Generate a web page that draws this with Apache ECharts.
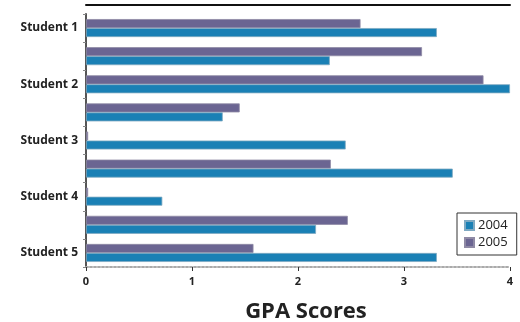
<!DOCTYPE html>
<html>
<head>
<meta charset="utf-8">
<script src="https://cdn.jsdelivr.net/npm/echarts@6/dist/echarts.min.js"></script>
<style>html,body{margin:0;padding:0;background:#fff}#c{width:520px;height:322px}</style>
</head>
<body>
<div id="c"></div>
<script>
const categories = ['Student 1', '', 'Student 2', '', 'Student 3', '', 'Student 4', '', 'Student 5'];
const values2004 = [3.31, 2.30, 4.0, 1.29, 2.45, 3.46, 0.72, 2.17, 3.31];
const values2005 = [2.59, 3.17, 3.75, 1.45, 0.02, 2.31, 0.02, 2.47, 1.58];
const xTicks = [0, 1, 2, 3, 4];

const chart = echarts.init(document.getElementById('c'));
chart.setOption({
  animation: false,
  backgroundColor: '#fff',
  title: {
    text: 'GPA Scores', left: 301, top: 296, textAlign: 'center',
    textStyle: { fontFamily: 'Open Sans', fontWeight: 'bold', fontSize: 22, color: '#222' }
  },
  legend: {
    data: ['2004', '2005'], orient: 'vertical', left: 457, top: 213,
    itemWidth: 9, itemHeight: 9, itemGap: 4, padding: [6, 9, 6, 7],
    borderColor: '#333', borderWidth: 1,
    icon: 'rect',
    textStyle: { fontFamily: 'Open Sans', fontSize: 13, color: '#222', padding: [0, 0, 0, -1] }
  },
  grid: { left: 86, right: 10, top: 14, bottom: 55 },
  xAxis: [{
    type: 'value', min: xTicks[0], max: xTicks[xTicks.length - 1], interval: 1,
    axisLine: { show: true, lineStyle: { color: '#aaa', width: 2, type: 'dotted' } },
    axisTick: { show: true, length: 4, lineStyle: { color: '#333' } },
    axisLabel: { fontFamily: 'Open Sans', fontWeight: 'bold', fontSize: 11, color: '#222', margin: 9 },
    splitLine: { show: false }
  }, {
    type: 'value', position: 'top', offset: 9, min: 0, max: 4,
    axisLine: { show: true, lineStyle: { color: '#111', width: 2 } },
    axisTick: { show: false }, axisLabel: { show: false }, splitLine: { show: false }
  }],
  yAxis: {
    type: 'category', data: categories, inverse: true,
    axisLine: { show: true, lineStyle: { color: '#555', width: 2 } },
    axisTick: { show: true, length: 3, alignWithLabel: false, lineStyle: { color: '#888' } },
    axisLabel: { fontFamily: 'Open Sans', fontWeight: 'bold', fontSize: 12, color: '#222', margin: 8 }
  },
  series: [{
    name: '2005', type: 'bar', data: values2005, barWidth: 9, barGap: '0%',
    itemStyle: { color: '#6b6592', borderColor: '#8f8aa5', borderWidth: 0.8 }
  }, {
    name: '2004', type: 'bar', data: values2004, barWidth: 9, barGap: '0%',
    itemStyle: { color: '#1a80b5', borderColor: '#7fa9c2', borderWidth: 0.8 }
  }]
});
</script>
</body>
</html>
